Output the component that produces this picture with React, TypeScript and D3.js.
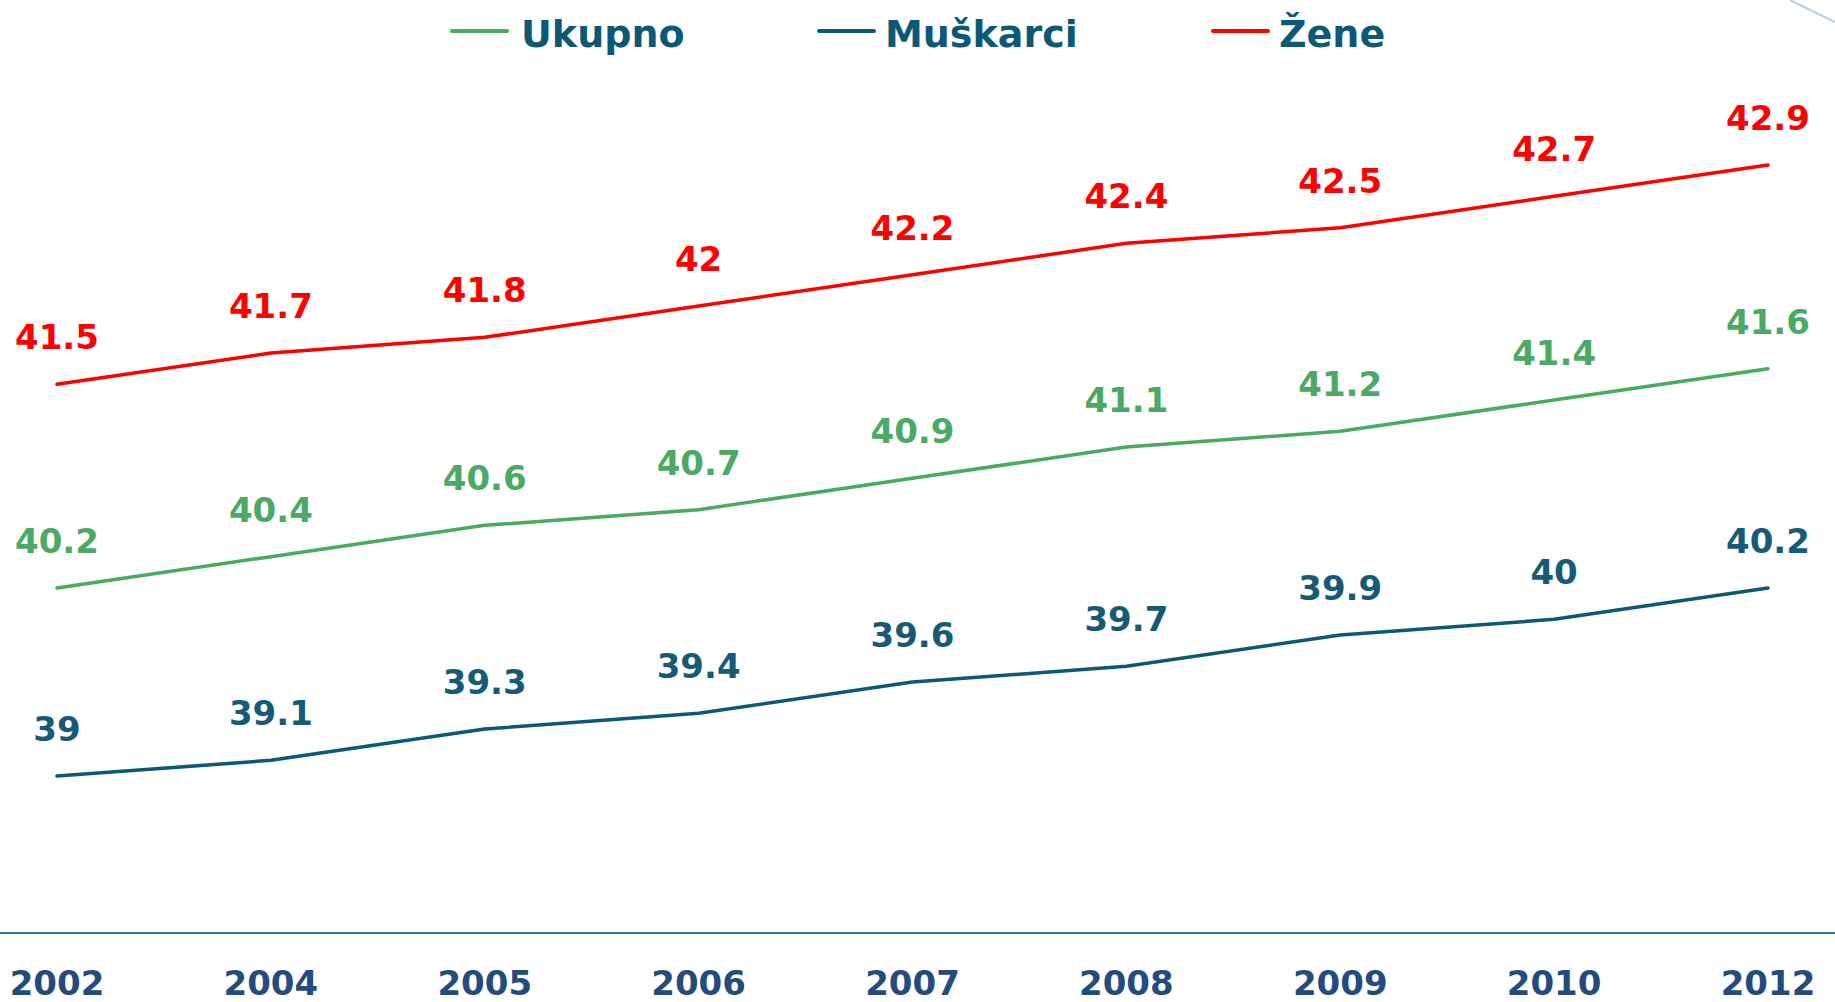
import React from "react";
import * as d3 from "d3";

const years = ["2002", "2004", "2005", "2006", "2007", "2008", "2009", "2010", "2012"];
const ukupno = [40.2, 40.4, 40.6, 40.7, 40.9, 41.1, 41.2, 41.4, 41.6];
const muskarci = [39, 39.1, 39.3, 39.4, 39.6, 39.7, 39.9, 40, 40.2];
const zene = [41.5, 41.7, 41.8, 42, 42.2, 42.4, 42.5, 42.7, 42.9];
const seriesNames = ["Ukupno", "Muškarci", "Žene"];
const seriesColors = ["#4aa963", "#0b5877", "#ff0000"];
const labelColors = ["#4aa963", "#175a78", "#ff0000"];

const W = 1835;
const H = 1002;
const FONT = "'DejaVu Sans', Verdana, sans-serif";

export default function App() {
  const x = d3.scalePoint<string>().domain(years).range([57, 1768]);
  const y = d3.scaleLinear().domain([39, 42.9]).range([776, 165]);
  const all = [ukupno, muskarci, zene];
  const line = d3
    .line<number>()
    .x((_, i) => x(years[i]) as number)
    .y((d) => y(d));

  const legendItems = [
    { lx: 452, tx: 521 },
    { lx: 819, tx: 885 },
    { lx: 1213, tx: 1279 },
  ];

  return (
    <svg
      width={W}
      height={H}
      style={{ position: "absolute", left: 0, top: 0, background: "#fff" }}
    >
      <line x1={1790} y1={0} x2={1835} y2={22} stroke="#b9cde0" strokeWidth={2} />
      {seriesNames.map((n, i) => (
        <g key={n}>
          <line
            x1={legendItems[i].lx}
            x2={legendItems[i].lx + 55}
            y1={31}
            y2={31}
            stroke={seriesColors[i]}
            strokeWidth={4}
            strokeLinecap="round"
          />
          <text
            x={legendItems[i].tx}
            y={47}
            fontFamily={FONT}
            fontWeight="bold"
            fontSize={38}
            fill="#0b5877"
          >
            {n}
          </text>
        </g>
      ))}
      <line x1={0} x2={W} y1={933} y2={933} stroke="#2a7a96" strokeWidth={2} />
      {years.map((yr) => (
        <text
          key={yr}
          x={x(yr)}
          y={995}
          textAnchor="middle"
          fontFamily={FONT}
          fontWeight="bold"
          fontSize={34}
          fill="#234b7e"
        >
          {yr}
        </text>
      ))}
      {all.map((s, si) => (
        <g key={si}>
          <path
            d={line(s) || ""}
            fill="none"
            stroke={seriesColors[si]}
            strokeWidth={3.5}
            strokeLinecap="round"
            strokeLinejoin="round"
          />
          {s.map((v, i) => (
            <text
              key={i}
              x={x(years[i])}
              y={y(v) - 35}
              textAnchor="middle"
              fontFamily={FONT}
              fontWeight="bold"
              fontSize={34}
              fill={labelColors[si]}
            >
              {String(v)}
            </text>
          ))}
        </g>
      ))}
    </svg>
  );
}
